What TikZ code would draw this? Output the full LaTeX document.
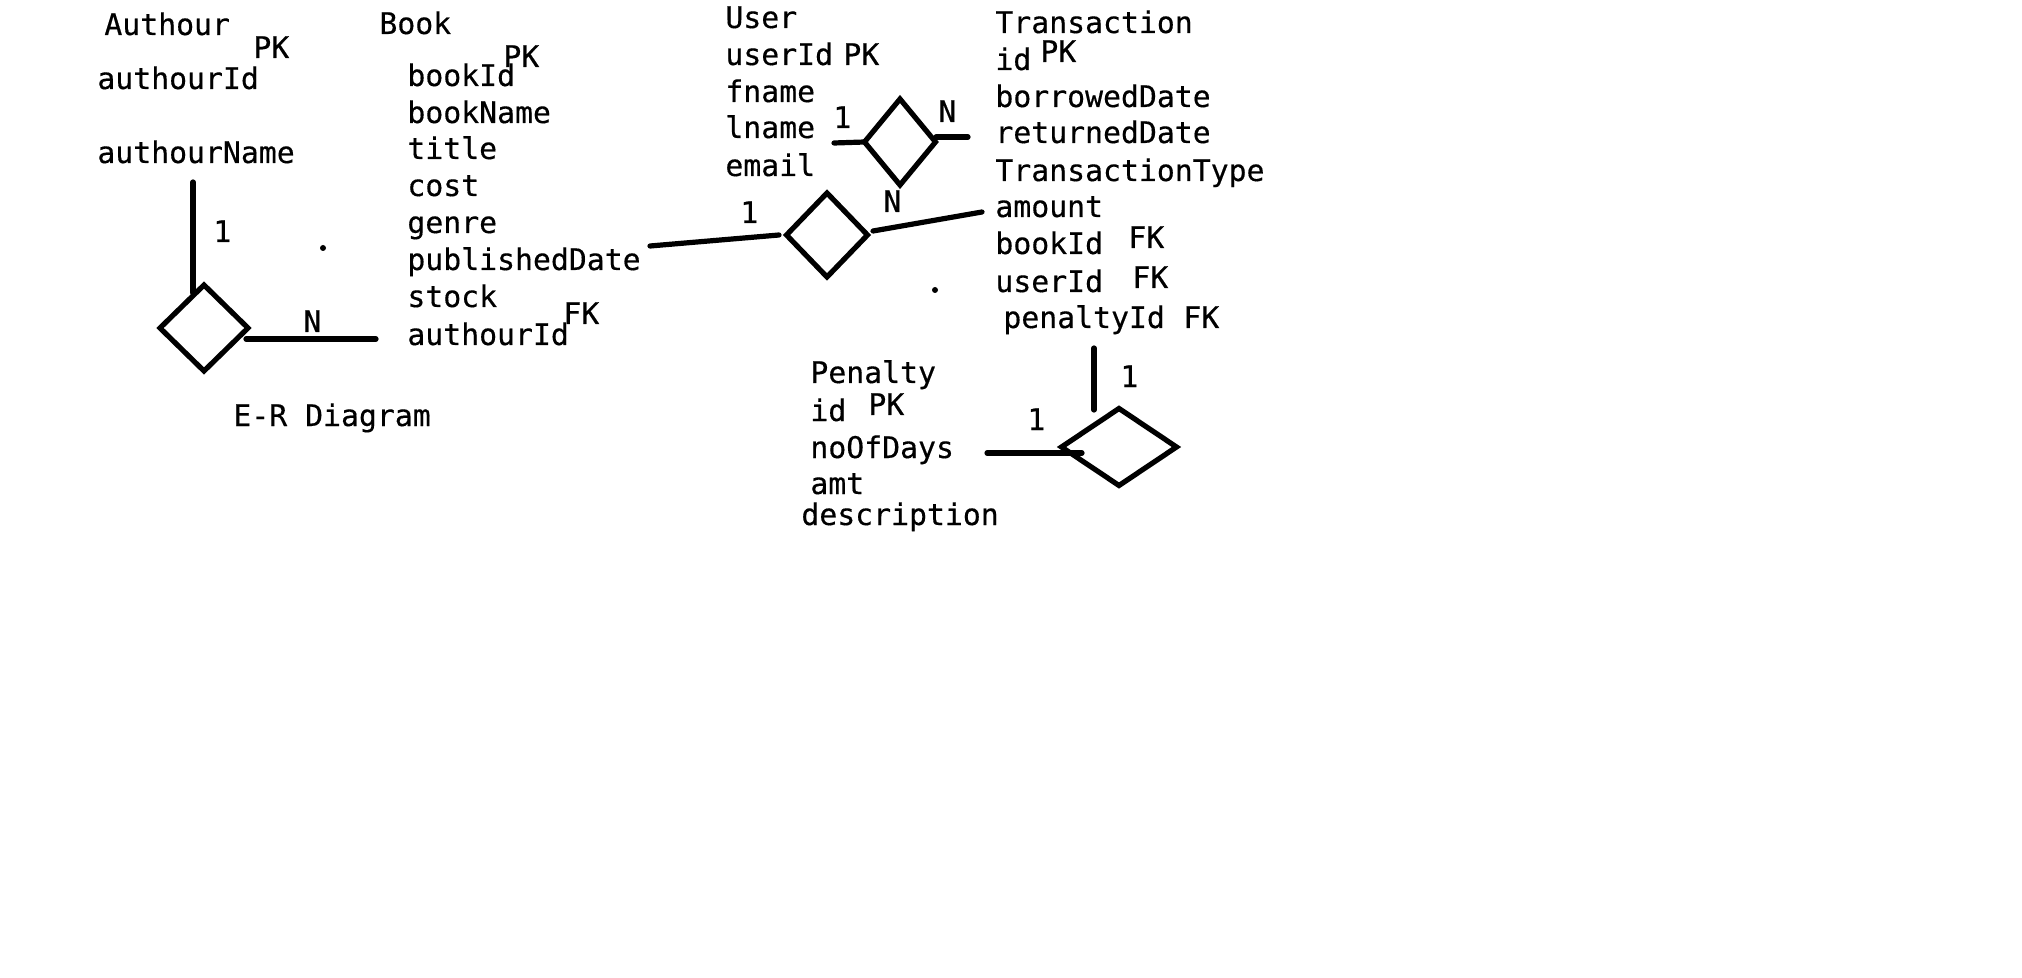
\documentclass[tikz,border=0pt]{standalone}
\usepackage{fontspec}
\newfontfamily\erfont[FakeBold=0.4]{DejaVu Sans Mono}
\usetikzlibrary{shapes.geometric}
\begin{document}
\begin{tikzpicture}[x=0.5pt,y=-0.5pt,
  txt/.style={anchor=base west, inner sep=0pt, font=\erfont\fontsize{14.9}{18}\selectfont},
  rel/.style={draw, diamond, line width=2.6pt, inner sep=0pt, outer sep=0pt},
  link/.style={line width=2.6pt, line cap=round},
  speck/.style={fill, circle, inner sep=0pt, minimum size=3pt}]
\useasboundingbox (0,0) rectangle (2022,978);
\fill[white] (0,0) rectangle (2022,978);

% Authour
\node[txt] (aT) at (104,35) {Authour};
\node[txt] (aPK) at (253,58) {PK};
\node[txt] (aId) at (97,89) {authourId};
\node[txt] (aName) at (97,163) {authourName};

% Book
\node[txt] (bT) at (379,34) {Book};
\node[txt] (bPK) at (503,67) {PK};
\node[txt] (b1) at (407,86) {bookId};
\node[txt] (b2) at (407,123) {bookName};
\node[txt] (b3) at (407,159) {title};
\node[txt] (b4) at (407,196) {cost};
\node[txt] (b5) at (407,233) {genre};
\node[txt] (b6) at (407,270) {publishedDate};
\node[txt] (b7) at (407,307) {stock};
\node[txt] (b8) at (407,345) {authourId};
\node[txt] (bFK) at (563,324) {FK};

% User
\node[txt] (uT) at (725,28) {User};
\node[txt] (u1) at (725,65) {userId};
\node[txt] (uPK) at (843,65) {PK};
\node[txt] (u2) at (725,102) {fname};
\node[txt] (u3) at (725,138) {lname};
\node[txt] (u4) at (725,176) {email};

% Transaction
\node[txt] (tT) at (995,33) {Transaction};
\node[txt] (t1) at (995,70) {id};
\node[txt] (tPK) at (1040,62) {PK};
\node[txt] (t2) at (995,107) {borrowedDate};
\node[txt] (t3) at (995,143) {returnedDate};
\node[txt] (t4) at (995,181) {TransactionType};
\node[txt] (t5) at (995,217) {amount};
\node[txt] (t6) at (995,254) {bookId};
\node[txt] (tFK1) at (1128,248) {FK};
\node[txt] (t7) at (995,292) {userId};
\node[txt] (tFK2) at (1132,288) {FK};
\node[txt] (t8) at (1003,328) {penaltyId};
\node[txt] (tFK3) at (1183,328) {FK};

% Penalty
\node[txt] (pT) at (810,383) {Penalty};
\node[txt] (p1) at (810,421) {id};
\node[txt] (pPK) at (868,415) {PK};
\node[txt] (p2) at (810,458) {noOfDays};
\node[txt] (p3) at (810,494) {amt};
\node[txt] (p4) at (801,525) {description};

% caption
\node[txt] (cap) at (233,426) {E-R Diagram};

% relationships
\node[rel, minimum width=44pt, minimum height=43pt] (r1) at (204,328) {};
\node[rel, minimum width=40.5pt, minimum height=42pt] (r2) at (827,235) {};
\node[rel, minimum width=35.5pt, minimum height=43pt] (r3) at (900,142) {};
\node[rel, minimum width=57.5pt, minimum height=38.5pt] (r4) at (1119,447) {};

% connector ends
\coordinate (c1a) at (193,182);
\coordinate (c1b) at (193,293);
\coordinate (c2a) at (246,339);
\coordinate (c2b) at (376,339);
\coordinate (c3a) at (650,246);
\coordinate (c3b) at (779,235);
\coordinate (c4a) at (873,231);
\coordinate (c4b) at (982,212);
\coordinate (c5a) at (834,143);
\coordinate (c6a) at (936,137);
\coordinate (c6b) at (968,137);
\coordinate (c7a) at (1094,348);
\coordinate (c7b) at (1094,410);
\coordinate (c8a) at (987,453);
\coordinate (c8b) at (1082,453);

\draw[link] (c1a) -- (c1b);
\draw[link] (c2a) -- (c2b);
\draw[link] (c3a) -- (c3b);
\draw[link] (c4a) -- (c4b);
\draw[link] (c5a) -- (r3.west);
\draw[link] (c6a) -- (c6b);
\draw[link] (c7a) -- (c7b);
\draw[link] (c8a) -- (c8b);

% cardinalities
\node[txt] (k1) at (213,242) {1};
\node[txt] (k2) at (303,332) {N};
\node[txt] (k3) at (740,223) {1};
\node[txt] (k4) at (883,212) {N};
\node[txt] (k5) at (833,128) {1};
\node[txt] (k6) at (938,122) {N};
\node[txt] (k7) at (1120,387) {1};
\node[txt] (k8) at (1027,430) {1};

% specks
\node[speck] (s1) at (323,248) {};
\node[speck] (s2) at (935,290) {};
\end{tikzpicture}
\end{document}
